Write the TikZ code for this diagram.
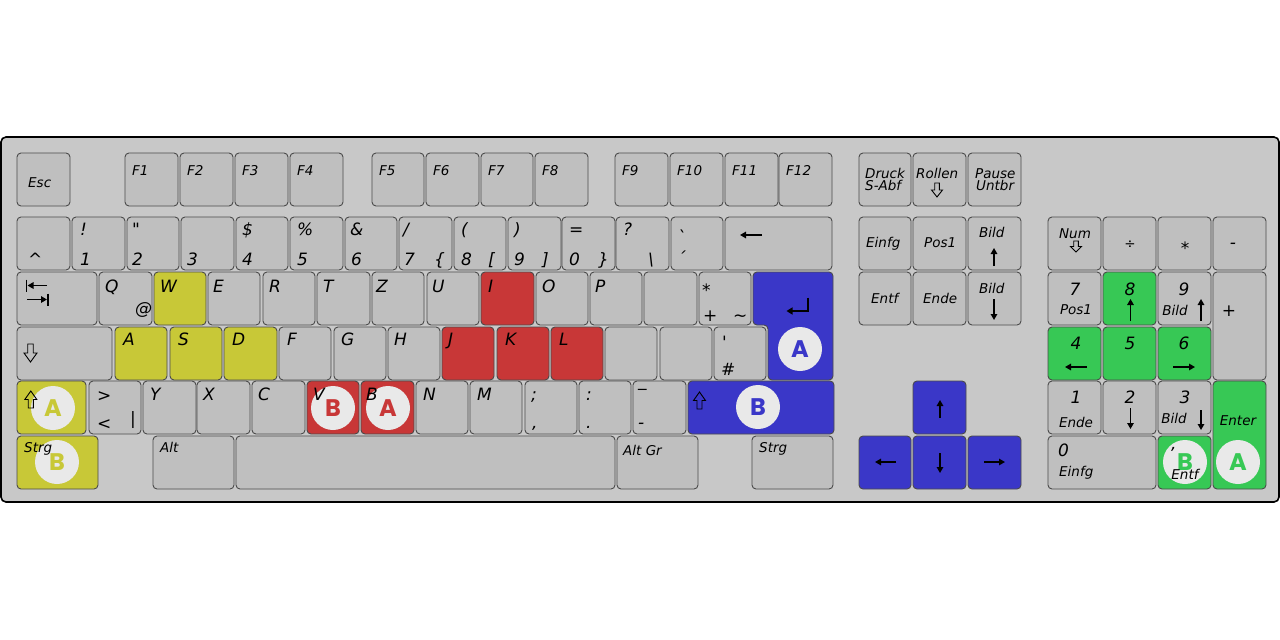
\documentclass[tikz,border=0pt]{standalone}
\usepackage{fontspec}
\setmainfont{DejaVu Sans}
\newfontfamily\circfont{Poppins}
\usetikzlibrary{arrows.meta}
\definecolor{kbbg}{RGB}{200,200,200}
\definecolor{kgray}{RGB}{191,191,191}
\definecolor{kline}{RGB}{75,75,75}
\definecolor{kyellow}{RGB}{200,200,55}
\definecolor{kred}{RGB}{200,55,55}
\definecolor{kblue}{RGB}{58,55,200}
\definecolor{kgreen}{RGB}{55,200,85}
\definecolor{kcirc}{RGB}{233,233,233}
\newcommand\kb[6]{\node[key,#6,minimum width={#4-#2},minimum height={#5-#3}] (#1) at ({(#2+#4)/2},{(#3+#5)/2}) {};}
\newcommand\kt[5]{\node[#4] (#1) at (#2,#3) {#5};}
\newcommand\outdn[4]{\draw[outarr] ({#1-0.42*#4},#2) -- ({#1+0.42*#4},#2) -- ({#1+0.42*#4},{#2+0.5*(#3-#2)}) -- ({#1+#4},{#2+0.5*(#3-#2)}) -- (#1,#3) -- ({#1-#4},{#2+0.5*(#3-#2)}) -- ({#1-0.42*#4},{#2+0.5*(#3-#2)}) -- cycle;}
\begin{document}
\begin{tikzpicture}[x=1pt,y=-1pt,
  key/.style={draw=kline, fill=kgray, rounded corners=4pt, line width=0.9pt, inner sep=0pt, outer sep=0pt},
  ky/.style={fill=kyellow}, kr/.style={fill=kred}, kbl/.style={fill=kblue}, kg/.style={fill=kgreen},
  L/.style={font=\itshape\fontsize{17}{17}\selectfont, anchor=base west, inner sep=0pt},
  S/.style={font=\itshape\fontsize{13.5}{13.5}\selectfont, anchor=base west, inner sep=0pt},
  LC/.style={L, anchor=base}, SC/.style={S, anchor=base},
  karrow/.style={line width=1.4pt, -{Triangle[length=6pt,width=6.5pt]}},
  bar/.style={line width=1.4pt},
  outarr/.style={draw=black, line width=0.9pt, line join=miter},
  circ/.style={circle, fill=kcirc, minimum size=44pt, inner sep=0pt, font=\circfont\bfseries\fontsize{24}{24}\selectfont}
]
\useasboundingbox (0,0) rectangle (1280,640);
\fill[white] (0,0) rectangle (1280,640);
\draw[line width=1.6pt, fill=kbbg, rounded corners=5pt] (1,137) rectangle (1279,502);

% ---- Function row
\kb{esc}{17}{153}{70}{206}{}
\kb{f1}{125}{153}{178}{206}{}
\kb{f2}{180}{153}{233}{206}{}
\kb{f3}{235}{153}{288}{206}{}
\kb{f4}{290}{153}{343}{206}{}
\kb{f5}{372}{153}{424}{206}{}
\kb{f6}{426}{153}{479}{206}{}
\kb{f7}{481}{153}{533}{206}{}
\kb{f8}{535}{153}{588}{206}{}
\kb{f9}{615}{153}{668}{206}{}
\kb{f10}{670}{153}{723}{206}{}
\kb{f11}{725}{153}{778}{206}{}
\kb{f12}{779}{153}{832}{206}{}
\kb{druck}{859}{153}{911}{206}{}
\kb{rollen}{913}{153}{966}{206}{}
\kb{pause}{968}{153}{1021}{206}{}
% ---- Number row
\kb{circum}{17}{217}{70}{270}{}
\kb{n1}{72}{217}{125}{270}{}
\kb{n2}{127}{217}{179}{270}{}
\kb{n3}{181}{217}{234}{270}{}
\kb{n4}{236}{217}{288}{270}{}
\kb{n5}{290}{217}{343}{270}{}
\kb{n6}{345}{217}{397}{270}{}
\kb{n7}{399}{217}{452}{270}{}
\kb{n8}{454}{217}{506}{270}{}
\kb{n9}{508}{217}{561}{270}{}
\kb{n0}{562}{217}{615}{270}{}
\kb{sz}{616}{217}{669}{270}{}
\kb{acc}{671}{217}{723}{270}{}
\kb{bs}{725}{217}{832}{270}{}
\kb{einfg}{859}{217}{911}{270}{}
\kb{pos1}{913}{217}{966}{270}{}
\kb{bup}{968}{217}{1021}{270}{}
\kb{num}{1048}{217}{1101}{270}{}
\kb{div}{1103}{217}{1156}{270}{}
\kb{mul}{1158}{217}{1211}{270}{}
\kb{minus}{1213}{217}{1266}{270}{}
% ---- Q row
\kb{tab}{17}{272}{97}{325}{}
\kb{q}{99}{272}{152}{325}{}
\kb{w}{154}{272}{206}{325}{ky}
\kb{e}{208}{272}{260}{325}{}
\kb{r}{263}{272}{315}{325}{}
\kb{t}{317}{272}{370}{325}{}
\kb{z}{372}{272}{424}{325}{}
\kb{u}{427}{272}{479}{325}{}
\kb{i}{481}{272}{534}{325}{kr}
\kb{o}{536}{272}{588}{325}{}
\kb{p}{590}{272}{642}{325}{}
\kb{ue}{644}{272}{697}{325}{}
\kb{plus}{699}{272}{751}{325}{}
\kb{entf}{859}{272}{911}{325}{}
\kb{ende}{913}{272}{966}{325}{}
\kb{bdn}{968}{272}{1021}{325}{}
\kb{np7}{1048}{272}{1101}{325}{}
\kb{np8}{1103}{272}{1156}{325}{kg}
\kb{np9}{1158}{272}{1211}{325}{}
\kb{npplus}{1213}{272}{1266}{380}{}
\draw[key, fill=kblue] (753,272) -- (833,272) -- (833,380) -- (768,380) -- (768,325) -- (753,325) -- cycle;
% ---- A row
\kb{caps}{17}{327}{112}{380}{}
\kb{a}{115}{327}{167}{380}{ky}
\kb{s}{170}{327}{222}{380}{ky}
\kb{d}{224}{327}{277}{380}{ky}
\kb{f}{279}{327}{331}{380}{}
\kb{g}{334}{327}{386}{380}{}
\kb{h}{388}{327}{440}{380}{}
\kb{j}{442}{327}{494}{380}{kr}
\kb{k}{497}{327}{549}{380}{kr}
\kb{l}{551}{327}{603}{380}{kr}
\kb{oe}{605}{327}{657}{380}{}
\kb{ae}{660}{327}{712}{380}{}
\kb{hash}{714}{327}{766}{380}{}
\kb{np4}{1048}{327}{1101}{380}{kg}
\kb{np5}{1103}{327}{1156}{380}{kg}
\kb{np6}{1158}{327}{1211}{380}{kg}
% ---- Shift row
\kb{lshift}{17}{381}{86}{434}{ky}
\kb{lt}{89}{381}{141}{434}{}
\kb{y}{143}{381}{196}{434}{}
\kb{x}{197}{381}{250}{434}{}
\kb{c}{252}{381}{305}{434}{}
\kb{v}{307}{381}{359}{434}{kr}
\kb{b}{361}{381}{414}{434}{kr}
\kb{n}{416}{381}{468}{434}{}
\kb{m}{470}{381}{522}{434}{}
\kb{semi}{525}{381}{577}{434}{}
\kb{colon}{579}{381}{631}{434}{}
\kb{dash}{633}{381}{686}{434}{}
\kb{rshift}{688}{381}{834}{434}{kbl}
\kb{up}{913}{381}{966}{434}{kbl}
\kb{np1}{1048}{381}{1101}{434}{}
\kb{np2}{1103}{381}{1156}{434}{}
\kb{np3}{1158}{381}{1211}{434}{}
\kb{npenter}{1213}{381}{1266}{489}{kg}
% ---- Bottom row
\kb{lctrl}{17}{436}{98}{489}{ky}
\kb{alt}{153}{436}{234}{489}{}
\kb{space}{236}{436}{615}{489}{}
\kb{altgr}{617}{436}{698}{489}{}
\kb{rctrl}{752}{436}{833}{489}{}
\kb{left}{859}{436}{911}{489}{kbl}
\kb{down}{913}{436}{966}{489}{kbl}
\kb{right}{968}{436}{1021}{489}{kbl}
\kb{np0}{1048}{436}{1156}{489}{}
\kb{npdel}{1158}{436}{1211}{489}{kg}

% ---- Circles
\node[circ, text=kyellow] (cyA) at (53,408) {A};
\node[circ, text=kyellow] (cyB) at (57,462) {B};
\node[circ, text=kred] (crB) at (333,408) {B};
\node[circ, text=kred] (crA) at (388,408) {A};
\node[circ, text=kblue] (cbA) at (800,349) {A};
\node[circ, text=kblue] (cbB) at (758,407) {B};
\node[circ, text=kgreen] (cgB) at (1185,462) {B};
\node[circ, text=kgreen] (cgA) at (1238,462) {A};

% ---- Function row labels
\kt{esc-t}{28}{187}{S}{Esc}
\kt{f1-t}{132}{175}{S}{F1}
\kt{f2-t}{187}{175}{S}{F2}
\kt{f3-t}{242}{175}{S}{F3}
\kt{f4-t}{297}{175}{S}{F4}
\kt{f5-t}{379}{175}{S}{F5}
\kt{f6-t}{433}{175}{S}{F6}
\kt{f7-t}{488}{175}{S}{F7}
\kt{f8-t}{542}{175}{S}{F8}
\kt{f9-t}{622}{175}{S}{F9}
\kt{f10-t}{677}{175}{S}{F10}
\kt{f11-t}{732}{175}{S}{F11}
\kt{f12-t}{786}{175}{S}{F12}
\kt{druck-a}{865}{178}{S}{Druck}
\kt{druck-b}{865}{190}{S}{S-Abf}
\kt{rollen-a}{916}{178}{S}{Rollen}
\outdn{937}{183}{197}{5.5}
\kt{pause-a}{975}{178}{S}{Pause}
\kt{pause-b}{976}{190}{S}{Untbr}

% ---- Number row labels
\kt{circum-t}{28}{265}{L}{\textasciicircum}
\kt{n1-a}{80}{235}{L}{!}
\kt{n1-b}{80}{265}{L}{1}
\kt{n2-a}{132}{235}{L}{\textquotedbl}
\kt{n2-b}{132}{265}{L}{2}
\kt{n3-b}{187}{265}{L}{3}
\kt{n4-a}{242}{235}{L}{\$}
\kt{n4-b}{242}{265}{L}{4}
\kt{n5-a}{297}{235}{L}{\%}
\kt{n5-b}{297}{265}{L}{5}
\kt{n6-a}{350}{235}{L}{\&}
\kt{n6-b}{351}{265}{L}{6}
\kt{n7-a}{403}{235}{L}{/}
\kt{n7-b}{404}{265}{L}{7}
\kt{n7-c}{434}{265}{L}{\{}
\kt{n8-a}{461}{235}{L}{(}
\kt{n8-b}{461}{265}{L}{8}
\kt{n8-c}{488}{265}{L}{[}
\kt{n9-a}{514}{235}{L}{)}
\kt{n9-b}{514}{265}{L}{9}
\kt{n9-c}{542}{265}{L}{]}
\kt{n0-a}{569}{235}{L}{=}
\kt{n0-b}{569}{265}{L}{0}
\kt{n0-c}{598}{265}{L}{\}}
\kt{sz-a}{623}{235}{L}{?}
\kt{sz-c}{648}{265}{L}{\textbackslash}
\kt{acc-a}{677}{243}{L}{\textasciigrave}
\kt{acc-b}{677}{264}{L}{\textasciiacute}
\draw[karrow] (762,235) -- (740,235);
\kt{einfg-t}{866}{247}{S}{Einfg}
\kt{pos1-t}{924}{247}{S}{Pos1}
\kt{bup-t}{979}{237}{S}{Bild}
\draw[karrow] (994,266) -- (994,248);
\kt{num-t}{1075}{238}{SC}{Num}
\outdn{1076}{241}{252}{5.5}
\kt{div-t}{1130}{248}{SC}{÷}
\kt{mul-t}{1185}{254}{LC}{*}
\kt{minus-t}{1233}{248}{LC}{-}

% ---- Q row labels
\draw[bar] (26.7,279.5) -- (26.7,292);
\draw[karrow] (47,285.5) -- (27.5,285.5);
\draw[karrow] (27,299.5) -- (47,299.5);
\draw[bar] (47.8,293.5) -- (47.8,306);
\kt{q-t}{105}{292}{L}{Q}
\kt{q-b}{135}{314}{L}{@}
\kt{w-t}{160}{292}{L}{W}
\kt{e-t}{213}{292}{L}{E}
\kt{r-t}{269}{292}{L}{R}
\kt{t-t}{323}{292}{L}{T}
\kt{z-t}{376}{292}{L}{Z}
\kt{u-t}{432}{292}{L}{U}
\kt{i-t}{488}{292}{L}{I}
\kt{o-t}{542}{292}{L}{O}
\kt{p-t}{595}{292}{L}{P}
\kt{plus-a}{702}{296}{L}{*}
\kt{plus-b}{703}{321}{L}{+}
\kt{plus-c}{733}{321}{L}{\textasciitilde}
\draw[line width=1.4pt, -{Triangle[length=6pt,width=7pt]}] (808,297.5) -- (808,311) -- (786.5,311);
\kt{entf-t}{871}{303}{S}{Entf}
\kt{ende-t}{923}{303}{S}{Ende}
\kt{bdn-t}{979}{293}{S}{Bild}
\draw[karrow] (994,299) -- (994,320);
\kt{np7-a}{1075}{295}{LC}{7}
\kt{np7-b}{1076}{314}{SC}{Pos1}
\kt{np8-a}{1130}{295}{LC}{8}
\draw[karrow] (1130.5,321) -- (1130.5,299);
\kt{np9-a}{1184}{295}{LC}{9}
\kt{np9-b}{1175}{315}{SC}{Bild}
\draw[karrow] (1201,321) -- (1201,299);
\kt{npplus-t}{1229}{316}{LC}{+}

% ---- A row labels
\outdn{30.5}{344}{362}{6.5}
\kt{a-t}{123}{345}{L}{A}
\kt{s-t}{178}{345}{L}{S}
\kt{d-t}{232}{345}{L}{D}
\kt{f-t}{287}{345}{L}{F}
\kt{g-t}{341}{345}{L}{G}
\kt{h-t}{394}{345}{L}{H}
\kt{j-t}{448}{345}{L}{J}
\kt{k-t}{505}{345}{L}{K}
\kt{l-t}{559}{345}{L}{L}
\kt{hash-a}{722}{348}{L}{\textquotesingle}
\kt{hash-b}{721}{375}{L}{\#}
\kt{np4-a}{1076}{349}{LC}{4}
\draw[karrow] (1087,367) -- (1065,367);
\kt{np5-a}{1130}{349}{LC}{5}
\kt{np6-a}{1184}{349}{LC}{6}
\draw[karrow] (1173,367) -- (1195,367);

% ---- Shift row labels
\outdn{30.8}{408}{391}{6}
\kt{lt-a}{97}{401}{L}{>}
\kt{lt-b}{97}{429}{L}{<}
\kt{lt-c}{130}{424}{L}{\textbar}
\kt{y-t}{150}{400}{L}{Y}
\kt{x-t}{203}{400}{L}{X}
\kt{c-t}{258}{400}{L}{C}
\kt{v-t}{313}{400}{L}{V}
\kt{b-t}{366}{400}{L}{B}
\kt{n-t}{423}{400}{L}{N}
\kt{m-t}{477}{400}{L}{M}
\kt{semi-a}{531}{400}{L}{;}
\kt{semi-b}{532}{428}{L}{,}
\kt{colon-a}{586}{400}{L}{:}
\kt{colon-b}{586}{428}{L}{.}
\kt{dash-a}{638}{386}{L}{\_}
\kt{dash-b}{638}{428}{L}{-}
\outdn{699.5}{409}{392}{6}
\draw[karrow] (940,418) -- (940,400);
\kt{np1-a}{1076}{403}{LC}{1}
\kt{np1-b}{1076}{427}{SC}{Ende}
\kt{np2-a}{1130}{403}{LC}{2}
\draw[karrow] (1130.5,408) -- (1130.5,429);
\kt{np3-a}{1185}{403}{LC}{3}
\kt{np3-b}{1174}{423}{SC}{Bild}
\draw[karrow] (1201,410) -- (1201,430);
\kt{npenter-t}{1238}{425}{SC}{Enter}

% ---- Bottom row labels
\kt{lctrl-t}{24}{452}{S}{Strg}
\kt{alt-t}{160}{452}{S}{Alt}
\kt{altgr-t}{623}{455}{S}{Alt Gr}
\kt{rctrl-t}{759}{452}{S}{Strg}
\draw[karrow] (896,462) -- (875,462);
\draw[karrow] (940,453) -- (940,473);
\draw[karrow] (984,462) -- (1005,462);
\kt{np0-a}{1058}{456}{L}{0}
\kt{np0-b}{1059}{476}{S}{Einfg}
\kt{npdel-a}{1171}{449}{L}{,}
\kt{npdel-b}{1185}{479}{SC}{Entf}
\end{tikzpicture}
\end{document}
